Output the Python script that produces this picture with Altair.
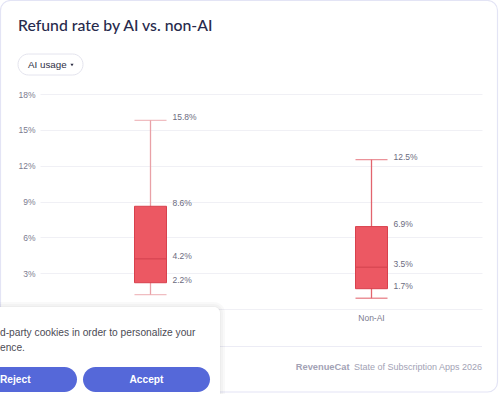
import altair as alt
import pandas as pd

# Refund-rate distribution per group (percent)
groups = ["AI", "Non-AI"]
whisker_low = [1.2, 0.9]
q1 = [2.2, 1.7]
median = [4.2, 3.5]
q3 = [8.6, 6.9]
whisker_high = [15.8, 12.5]
y_ticks = [0, 3, 6, 9, 12, 15, 18]

stats = pd.DataFrame({
    "group": groups, "lo": whisker_low, "q1": q1,
    "med": median, "q3": q3, "hi": whisker_high,
})

# value labels beside each box (max, Q3, median, Q1)
label_rows = []
for i, g in enumerate(groups):
    for v in (whisker_high[i], q3[i], median[i], q1[i]):
        label_rows.append({"group": g, "value": v, "text": f"{v}%"})
labels = pd.DataFrame(label_rows)

W, H = 442, 215          # plot area
OX, OY = 40, 94          # plot origin inside the 500x394 card

SMALL_FONT = "Liberation Sans"
AXIS_GREY = "#7b7b8f"
BOX_FILL = "#ec5863"
BOX_EDGE = "#d8414d"
BANNER_BLUE = "#5568d9"
WHISKER = alt.Scale(domain=groups, range=["#e9a1a7", "#e2646e"])

x_enc = alt.X(
    "group:N",
    scale=alt.Scale(domain=groups, paddingInner=0, paddingOuter=0),
    axis=alt.Axis(title=None, labelAngle=0, ticks=False, domain=False, grid=False,
                  labelPadding=4, labelFontSize=8.5, labelColor=AXIS_GREY,
                  labelFont=SMALL_FONT),
)
y_scale = alt.Scale(domain=[0, 18], nice=False, zero=True)
y_axis = alt.Axis(values=y_ticks, labelExpr="datum.value + '%'", title=None,
                  ticks=False, domain=False, gridColor="#f0f0f5",
                  labelOverlap=False, labelPadding=5, labelFontSize=8.5,
                  labelColor=AXIS_GREY, labelFont=SMALL_FONT)


def yq(field):
    return alt.Y(field, scale=y_scale, axis=y_axis)


base = alt.Chart(stats)

whiskers = base.mark_rule(strokeWidth=1.3).encode(
    x=x_enc, y=yq("lo:Q"), y2="hi:Q",
    color=alt.Color("group:N", scale=WHISKER, legend=None),
)
caps_lo = base.mark_tick(size=32, thickness=1.3).encode(
    x=x_enc, y=yq("lo:Q"),
    color=alt.Color("group:N", scale=WHISKER, legend=None),
)
caps_hi = base.mark_tick(size=32, thickness=1.3).encode(
    x=x_enc, y=yq("hi:Q"),
    color=alt.Color("group:N", scale=WHISKER, legend=None),
)
boxes = base.mark_bar(size=32, fill=BOX_FILL, stroke=BOX_EDGE, strokeWidth=1).encode(
    x=x_enc, y=yq("q1:Q"), y2="q3:Q",
)
medians = base.mark_tick(size=31, thickness=1.3, color="#cf3f4b").encode(
    x=x_enc, y=yq("med:Q"),
)
value_text = alt.Chart(labels).mark_text(
    align="left", baseline="middle", dx=22, dy=-3, fontSize=8.5,
    font=SMALL_FONT, color="#6b6b80",
).encode(x=x_enc, y=yq("value:Q"), text="text:N")

# ---- card furniture, positioned relative to the plot origin ----
one = pd.DataFrame({"k": [0]})


def px(x):
    return alt.value(x - OX)


def py(y):
    return alt.value(y - OY)


def rect(x0, x1, y0, y1, **kw):
    return alt.Chart(one).mark_rect(**kw).encode(x=px(x0), x2=px(x1), y=py(y0), y2=py(y1))


def text(s, x, y, **kw):
    return alt.Chart(one).mark_text(**kw).encode(x=px(x), y=py(y), text=alt.value(s))


card = rect(0.5, 497.5, 0.5, 392, fill=None, stroke="#e3e4f5", strokeWidth=1.2,
            cornerRadius=10)
title = text("Refund rate by AI vs. non-AI", 18, 26, align="left", baseline="middle",
             font="Lato", fontSize=15.8, fontWeight=500, color="#272a4c")
pill = rect(18, 83, 54, 75, fill="white", stroke="#e4e4ee", strokeWidth=1,
            cornerRadius=10.5)
pill_text = text("AI usage", 28, 64.5, align="left", baseline="middle",
                 font=SMALL_FONT, fontSize=9.8, color="#2e2f45")
caret = alt.Chart(one).mark_point(shape="triangle-down", filled=True, size=10,
                                  color="#2e2f45", opacity=1).encode(x=px(72), y=py(65))
separator = alt.Chart(one).mark_rule(color="#ececf5", strokeWidth=1).encode(
    x=px(18), x2=px(482), y=py(346.5))
brand = text("RevenueCat", 349.5, 367, align="right", baseline="middle",
             font=SMALL_FONT, fontSize=9.3, fontWeight="bold", color="#a2a2b5")
footer = text("State of Subscription Apps 2026", 482, 367, align="right",
              baseline="middle", font=SMALL_FONT, fontSize=9, color="#a2a2b5")

# cookie banner in the lower-left corner
shadows = [rect(-20, 220 + d, 307 - d, 420, fill="#000000", opacity=0.025,
                cornerRadius=6 + d) for d in (1, 3, 5)]
banner = rect(-20, 220, 307, 420, fill="white", cornerRadius=6)
banner_l1 = text("d-party cookies in order to personalize your", 0, 333, align="left",
                 baseline="middle", font=SMALL_FONT, fontSize=10.2, color="#4b4b55")
banner_l2 = text("ence.", 0, 348, align="left", baseline="middle",
                 font=SMALL_FONT, fontSize=10.2, color="#4b4b55")
reject_btn = rect(-40, 77, 367, 392, fill=BANNER_BLUE, cornerRadius=12.5)
accept_btn = rect(83, 210, 367, 392, fill=BANNER_BLUE, cornerRadius=12.5)
reject_txt = text("Reject", 0, 379.5, align="left", baseline="middle", font=SMALL_FONT,
                  fontSize=10.2, fontWeight="bold", color="white")
accept_txt = text("Accept", 146.5, 379.5, align="center", baseline="middle",
                  font=SMALL_FONT, fontSize=10.2, fontWeight="bold", color="white")

chart = alt.layer(
    whiskers, caps_lo, caps_hi, boxes, medians, value_text,
    card, title, pill, pill_text, caret, separator, brand, footer,
    *shadows, banner, banner_l1, banner_l2, reject_btn, accept_btn, reject_txt, accept_txt,
).properties(
    width=W, height=H,
    padding={"left": OX, "top": OY, "right": 500 - OX - W, "bottom": 394 - OY - H},
    autosize=alt.AutoSizeParams(type="none"),
    background="white",
).configure_view(stroke=None).configure_axisY(labelOverlap=False)

chart.save("out.html", embed_options={"renderer": "svg", "actions": False})
